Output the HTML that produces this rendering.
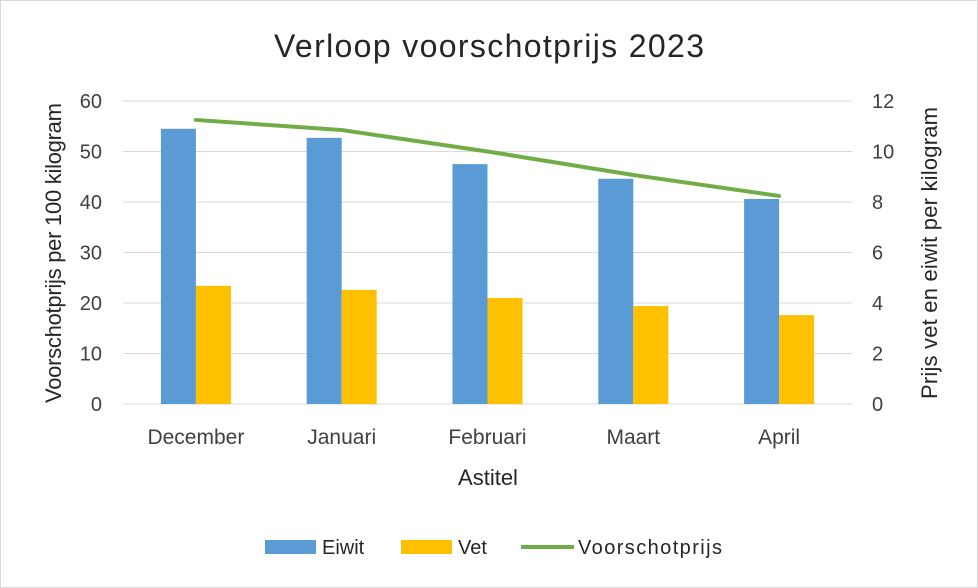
<!DOCTYPE html>
<html><head><meta charset="utf-8"><style>
body{margin:0;background:#fff;}
svg{display:block;font-family:"Liberation Sans",sans-serif;}
</style></head><body>
<svg id="chart" width="978" height="588">
<rect x="0.5" y="0.5" width="977" height="587" fill="#fff" stroke="#d9d9d9"/>
<text x="489" y="57" font-size="32" text-anchor="middle" fill="#262626" textLength="430">Verloop voorschotprijs 2023</text>
<g id="grid"></g><g id="bars"></g><g id="line"></g><g id="axes"></g>
<text transform="translate(61,253) rotate(-90)" font-size="22" text-anchor="middle" fill="#262626" textLength="300">Voorschotprijs per 100 kilogram</text>
<text transform="translate(937,253) rotate(-90)" font-size="22" text-anchor="middle" fill="#262626" textLength="292">Prijs vet en eiwit per kilogram</text>
<text x="488" y="485" font-size="22" text-anchor="middle" fill="#262626">Astitel</text>
<g font-size="20" fill="#262626">
<g><rect x="265" y="540" width="51" height="14" fill="#5b9bd5"/><text x="322" y="554">Eiwit</text></g>
<g><rect x="401" y="540" width="51" height="14" fill="#ffc000"/><text x="458" y="554">Vet</text></g>
<g><line x1="521" y1="547" x2="574" y2="547" stroke="#70ad47" stroke-width="4"/><text x="578" y="554" textLength="144">Voorschotprijs</text></g>
</g>
</svg>
<script>
const categories=["December","Januari","Februari","Maart","April"];
const eiwit=[54.5,52.7,47.5,44.6,40.6];
const vet=[23.4,22.6,21.0,19.4,17.6];
const voorschot=[11.25,10.85,10.0,9.07,8.24];
const leftTicks=[0,10,20,30,40,50,60];
const rightTicks=[0,2,4,6,8,10,12];
const NS="http://www.w3.org/2000/svg";
const x0=123,x1=852,y0=404,yTop=101;
const bw=(x1-x0)/categories.length;
const yL=v=>y0-(v/60)*(y0-yTop);
const yR=v=>y0-(v/12)*(y0-yTop);
const xC=i=>x0+bw*(i+0.5);
function mk(tag,attrs,parent,txt){const e=document.createElementNS(NS,tag);for(const k in attrs)e.setAttribute(k,attrs[k]);if(txt!==undefined)e.textContent=txt;document.getElementById(parent).appendChild(e);return e;}
leftTicks.forEach((t,i)=>{
  const g=mk('line',{x1:x0,x2:x1,y1:yL(t),y2:yL(t),stroke:'#d9d9d9','stroke-width':1},'grid');
  
  
  const l=mk('text',{x:102,y:yL(t)+7,'font-size':20,'text-anchor':'end',fill:'#404040'},'axes',t);
  
  
});
rightTicks.forEach(t=>{
  const l=mk('text',{x:872,y:yR(t)+7,'font-size':20,'text-anchor':'start',fill:'#404040'},'axes',t);
  
  
});
categories.forEach((c,i)=>{
  const cx=xC(i);
  const b1=mk('rect',{x:cx-35,y:yL(eiwit[i]),width:35,height:y0-yL(eiwit[i]),fill:'#5b9bd5'},'bars');
  
  
  const b2=mk('rect',{x:cx,y:yL(vet[i]),width:35,height:y0-yL(vet[i]),fill:'#ffc000'},'bars');
  
  
  const l=mk('text',{x:cx,y:444,'font-size':21,'text-anchor':'middle',fill:'#404040'},'axes',c);
  
  
});
const pts=voorschot.map((v,i)=>xC(i)+','+yR(v)).join(' ');
const pl=mk('polyline',{points:pts,fill:'none',stroke:'#70ad47','stroke-width':4,'stroke-linejoin':'round','stroke-linecap':'round'},'line');


</script>
</body></html>
